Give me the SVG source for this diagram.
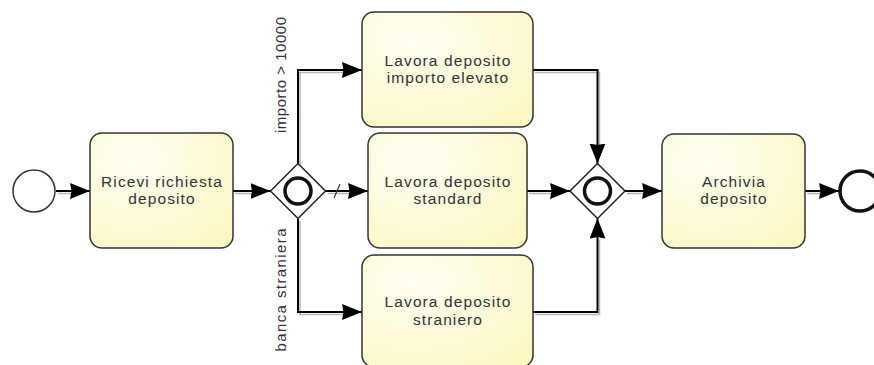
<svg xmlns="http://www.w3.org/2000/svg" width="874" height="365" viewBox="0 0 874 365">
  <defs>
    <radialGradient id="taskFill" cx="0.3" cy="0.25" r="0.9">
      <stop offset="0" stop-color="#fefef2"/>
      <stop offset="1" stop-color="#fbf7c4"/>
    </radialGradient>
    <marker id="arrow" markerUnits="userSpaceOnUse" markerWidth="21" markerHeight="17" refX="20" refY="8" orient="auto" viewBox="0 0 21 17">
      <path d="M0,0 L20,8 L0,16 L1.5,8 z" fill="#000"/>
    </marker>
  </defs>
  <style>
    .task { fill: url(#taskFill); stroke: #333; stroke-width: 1.5; }
    .txt { font-family: "Liberation Sans", Arial, sans-serif; font-size: 15.5px; fill: #333; text-anchor: middle; letter-spacing: 1.1px; }
    .lbl { font-family: "Liberation Sans", Arial, sans-serif; font-size: 15px; fill: #333; text-anchor: middle; }
    .flow { fill: none; stroke: #000; stroke-width: 2; }
    .shadow { fill: none; stroke: #b5b5b5; stroke-width: 1.5; }
    .gw { fill: #fff; stroke: #222; stroke-width: 1.5; }
    .gwmark { fill: none; stroke: #111; stroke-width: 3.5; }
  </style>
  <rect width="874" height="365" fill="#fff"/>

  <g id="connectors">
    <g transform="translate(2,2.5)">
      <path class="shadow" d="M56,191 H72"/>
      <path class="shadow" d="M233,191 H252"/>
      <path class="shadow" d="M298,163.5 V70 H344"/>
      <path class="shadow" d="M325.5,191 H350"/>
      <path class="shadow" d="M298,218.5 V312 H344"/>
      <path class="shadow" d="M533,70 H597.5 V145"/>
      <path class="shadow" d="M527,191 H552"/>
      <path class="shadow" d="M533,312 H597.5 V237"/>
      <path class="shadow" d="M625,191 H644"/>
      <path class="shadow" d="M805,191 H821"/>
    </g>
    <path id="c1" class="flow" d="M56,191 H90" marker-end="url(#arrow)"/>
    <path id="c2" class="flow" d="M233,191 H270.5" marker-end="url(#arrow)"/>
    <path id="c3" class="flow" d="M298,163.5 V70 H362" marker-end="url(#arrow)"/>
    <path id="c4" class="flow" d="M325.5,191 H368" marker-end="url(#arrow)"/>
    <path id="c4-default" fill="none" stroke="#333" stroke-width="1.2" d="M334,198 L340,184"/>
    <path id="c5" class="flow" d="M298,218.5 V312 H362" marker-end="url(#arrow)"/>
    <path id="c6" class="flow" d="M533,70 H597.5 V163.5" marker-end="url(#arrow)"/>
    <path id="c7" class="flow" d="M527,191 H570" marker-end="url(#arrow)"/>
    <path id="c8" class="flow" d="M533,312 H597.5 V218.5" marker-end="url(#arrow)"/>
    <path id="c9" class="flow" d="M625,191 H662" marker-end="url(#arrow)"/>
    <path id="c10" class="flow" d="M805,191 H839" marker-end="url(#arrow)"/>
    <text class="lbl" transform="translate(286,75) rotate(-90)" textLength="116" lengthAdjust="spacing">importo &gt; 10000</text>
    <text class="lbl" transform="translate(286,290) rotate(-90)" textLength="123" lengthAdjust="spacing">banca straniera</text>
  </g>

  <g id="start">
    <circle cx="34" cy="191" r="21" fill="#fff" stroke="#333" stroke-width="1.5"/>
  </g>

  <g id="ricevi">
    <rect class="task" x="90" y="133" width="143" height="115" rx="12"/>
    <text class="txt" x="162" y="186.5">Ricevi richiesta</text>
    <text class="txt" x="162" y="204">deposito</text>
  </g>

  <g id="gateway1">
    <path class="gw" d="M298,163.5 L325.5,191 L298,218.5 L270.5,191 z"/>
    <circle class="gwmark" cx="298" cy="191" r="13"/>
  </g>

  <g id="elevato">
    <rect class="task" x="362" y="12" width="171" height="115" rx="12"/>
    <text class="txt" x="448" y="65.5">Lavora deposito</text>
    <text class="txt" x="448" y="83">importo elevato</text>
  </g>

  <g id="standard">
    <rect class="task" x="368" y="133" width="159" height="115" rx="12"/>
    <text class="txt" x="448" y="186.5">Lavora deposito</text>
    <text class="txt" x="448" y="204">standard</text>
  </g>

  <g id="straniero">
    <rect class="task" x="362" y="255" width="171" height="112" rx="12"/>
    <text class="txt" x="448" y="307">Lavora deposito</text>
    <text class="txt" x="448" y="324.5">straniero</text>
  </g>

  <g id="gateway2">
    <path class="gw" d="M597.5,163.5 L625,191 L597.5,218.5 L570,191 z"/>
    <circle class="gwmark" cx="597.5" cy="191" r="13"/>
  </g>

  <g id="archivia">
    <rect class="task" x="662" y="134" width="143" height="114" rx="12"/>
    <text class="txt" x="734" y="186.5">Archivia</text>
    <text class="txt" x="734" y="204">deposito</text>
  </g>

  <g id="end">
    <circle cx="860" cy="191" r="20" fill="#fff" stroke="#111" stroke-width="3.5"/>
  </g>
</svg>
